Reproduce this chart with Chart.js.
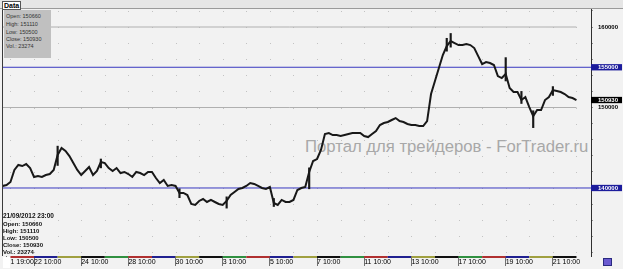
<!DOCTYPE html>
<html>
<head>
<meta charset="utf-8">
<script src="https://cdn.jsdelivr.net/npm/chart.js@4.4.1/dist/chart.umd.min.js"></script>
<style>
  html, body { margin: 0; padding: 0; background: #f2f2f2; }
  #wrap { position: relative; width: 623px; height: 269px; overflow: hidden; background: #f2f2f2; font-family: "Liberation Sans", Arial, sans-serif; }
  #wrap canvas { position: absolute; left: 0; top: 0; z-index: 2; }
  .wm { position: absolute; left: 305px; top: 137px; font-size: 16.7px; color: #a8a8a8; z-index: 1; white-space: nowrap; }
  .topband { position: absolute; left: 0; top: 0; width: 623px; height: 8px; background: #e6e6e6; border-bottom: 1px solid #9a9a9a; z-index: 3; }
  .tab { position: absolute; left: 2px; top: 1px; padding: 0 1px; height: 7px; line-height: 7px; font-size: 7px; font-weight: bold; background: #fff; border: 1px solid #555; z-index: 4; }
  .leftline { position: absolute; left: 2px; top: 8px; width: 1px; height: 248px; background: #3a3a3a; z-index: 3; }
  .infobox { position: absolute; left: 4px; top: 10px; width: 47px; height: 48px; background: #c0c0c0; z-index: 3; font-size: 5.5px; color: #333; }
  .infobox div { position: absolute; left: 2px; white-space: nowrap; }
  .bl { position: absolute; left: 3px; z-index: 3; font-size: 6px; font-weight: bold; color: #111; white-space: nowrap; }
  .whitebox { position: absolute; left: 3px; top: 257px; width: 7px; height: 11px; background: #fff; z-index: 3; }
  .purplebox { position: absolute; left: 603px; top: 258px; width: 7px; height: 6px; background: #6a5ad0; border: 1px solid #2a2a80; z-index: 3; }
</style>
</head>
<body>
<div id="wrap">
  <div class="wm">Портал для трейдеров - ForTrader.ru</div>
  <canvas id="chart" width="623" height="269"></canvas>
  <div class="topband"></div>
  <div class="tab">Data</div>
  <div class="leftline"></div>
  <div class="infobox">
    <div style="top:3px">Open: 150660</div>
    <div style="top:11px">High: 151110</div>
    <div style="top:19px">Low: 150500</div>
    <div style="top:26px">Close: 150930</div>
    <div style="top:33px">Vol.: 23274</div>
  </div>
  <div class="bl" style="top:212px;font-size:6.5px">21/09/2012 23:00</div>
  <div class="bl" style="top:221px">Open: 150660</div>
  <div class="bl" style="top:228px">High: 151110</div>
  <div class="bl" style="top:235px">Low: 150500</div>
  <div class="bl" style="top:242px">Close: 150930</div>
  <div class="bl" style="top:249px">Vol.: 23274</div>
  <div class="whitebox"></div>
  <div class="purplebox"></div>
</div>
<script>
// hourly closes, sampled evenly across the chart (one value per bar slot)
const closes = [
  140250, 140370, 140750, 142240, 142860, 142730, 142980, 142480, 141370, 141490,
  141370, 141610, 141740, 142240, 144100, 144970, 144600, 143970, 143100, 142240,
  141610, 142110, 142610, 141610, 142110, 143230, 143100, 142480, 142110, 142480,
  141860, 141990, 141740, 141370, 141990, 141860, 141610, 141990, 141990, 141240,
  140620, 140990, 140250, 140370, 140250, 139380, 139380, 139130, 138010, 137890,
  138390, 138630, 138260, 138510, 138260, 138010, 137890, 138390, 139130, 139500,
  139880, 140000, 140250, 140620, 140500, 140250, 140000, 139880, 140120, 138140,
  137890, 138510, 138260, 138260, 138510, 139750, 140000, 140120, 141990, 143350,
  143600, 144720, 146710, 146830, 146580, 146580, 146460, 146580, 146710, 146830,
  146830, 146830, 146460, 146330, 146710, 147080, 147820, 148070, 148200, 148450,
  148690, 148320, 148200, 147950, 147820, 147820, 147700, 147700, 148320, 151670,
  153290, 154900, 156520, 157640, 158260, 158010, 157760, 157760, 157880, 157760,
  157390, 156390, 155400, 155650, 155530, 155280, 153910, 153660, 154160, 152420,
  151920, 151920, 150930, 151300, 150060, 148940, 149690, 149690, 150930, 151300,
  152170, 152050, 151920, 151670, 151300, 151180, 150930
];

// the few long bar wicks that stand out: slot, low, high
const wickSlots = [14, 25, 45, 57, 69, 78, 113, 114, 128, 132, 135, 140];
const wickLows  = [142800, 142500, 138800, 137500, 137700, 139900, 157000, 157500, 153300, 150500, 147500, 151500];
const wickHighs = [145200, 143600, 139900, 138900, 138700, 142500, 158600, 159200, 156200, 152000, 149600, 152600];

// x axis labels and the bar slot each one sits on
const xTickPos = [1, 8, 20, 32, 44, 56, 68, 80, 92, 104, 116, 128, 140];
const xTickLabels = ['21 19:00', '22 10:00', '24 10:00', '28 10:00', '30 10:00', '3 10:00',
  '5 10:00', '7 10:00', '11 10:00', '13 10:00', '17 10:00', '19 10:00', '21 10:00'];

// session (day) starts, used for the dotted grid and the colored separator strip
const dayStarts = [2, 8, 14, 20, 26, 32, 38, 44, 50, 56, 62, 68, 74, 80, 86, 92, 98, 104,
  110, 116, 122, 128, 134, 140, 146];
const dayColors = ['#b03030', '#202090', '#a0a040', '#101010', '#309040'];

// horizontal levels
const blueLevels = [155000, 140000];
const grayLevels = [160000, 150000];
const lastClose = 150930;

const xMin = 0.1, xMax = 149.7;
const yMin = 131550, yMax = 162240;

const lastIdx = closes.length - 1;

function levelStyle(v) {
  if (blueLevels.includes(v)) return '#1c1c9c';
  if (v === lastClose) return '#000000';
  return null;
}

const gridDots = {
  id: 'gridDots',
  beforeDatasetsDraw(chart) {
    const { ctx, scales: { x, y } } = chart;
    ctx.save();
    ctx.fillStyle = '#c2c2c2';
    dayStarts.forEach(d => {
      const px = Math.round(x.getPixelForValue(d));
      y.ticks.forEach(t => {
        if (t.value % 2000 !== 0) return;
        const py = Math.round(y.getPixelForValue(t.value));
        ctx.fillRect(px, py, 1, 1);
      });
    });
    ctx.restore();
  }
};

const daySeparators = {
  id: 'daySeparators',
  afterDatasetsDraw(chart) {
    const { ctx, chartArea, scales: { x } } = chart;
    ctx.save();
    for (let k = 0; k < dayStarts.length - 1; k++) {
      const x0 = x.getPixelForValue(dayStarts[k]);
      const x1 = x.getPixelForValue(dayStarts[k + 1]);
      ctx.fillStyle = dayColors[k % dayColors.length];
      ctx.fillRect(x0, chartArea.bottom, x1 - x0, 2);
    }
    ctx.restore();
  }
};

function flatLine(v, x0, x1, color) {
  return {
    type: 'line',
    data: [{ x: x0, y: v }, { x: x1, y: v }],
    borderColor: color,
    borderWidth: 1,
    pointRadius: 0
  };
}

const datasets = [{
  type: 'line',
  data: closes.map((c, i) => ({ x: i, y: c })),
  borderColor: '#181818',
  borderWidth: 2,
  pointRadius: 0,
  tension: 0
}, {
  type: 'bar',
  data: wickSlots.map((s, k) => ({ x: s, y: [wickLows[k], wickHighs[k]] })),
  backgroundColor: '#181818',
  barThickness: 1.5
}];
blueLevels.forEach(v => datasets.push(flatLine(v, xMin, xMax, '#3838c0')));
grayLevels.forEach(v => datasets.push(flatLine(v, xMin, lastIdx, '#b0b0b0')));

new Chart(document.getElementById('chart'), {
  type: 'line',
  data: { datasets: datasets },
  options: {
    responsive: false,
    animation: false,
    devicePixelRatio: 1,
    layout: { padding: { left: 3, top: 9, right: 0, bottom: 0 } },
    plugins: { legend: { display: false }, tooltip: { enabled: false } },
    scales: {
      x: {
        type: 'linear',
        min: xMin,
        max: xMax,
        offset: false,
        afterBuildTicks: scale => { scale.ticks = xTickPos.map(v => ({ value: v })); },
        afterFit: scale => { scale.height = 13; },
        border: { display: false },
        grid: { drawOnChartArea: false, drawTicks: true, tickLength: 10, color: '#707070', offset: false },
        ticks: {
          autoSkip: false,
          maxRotation: 0,
          align: 'start',
          padding: -8,
          color: '#000',
          font: { family: 'Liberation Sans', size: 7 },
          callback: (value, index) => xTickLabels[index]
        }
      },
      y: {
        position: 'right',
        min: yMin,
        max: yMax,
        afterBuildTicks: scale => {
          const ticks = [];
          for (let v = 132000; v <= 162000; v += 2000) ticks.push(v);
          ticks.push(155000, lastClose);
          ticks.sort((a, b) => a - b);
          scale.ticks = ticks.map(v => ({ value: v }));
        },
        afterFit: scale => { scale.width = 32; },
        border: { display: true, color: '#303030', width: 1 },
        grid: { drawOnChartArea: false, drawTicks: true, tickLength: 2, color: '#909090' },
        ticks: {
          autoSkip: false,
          padding: 5,
          font: { family: 'Liberation Sans', size: 6, weight: 'bold', lineHeight: 1.05 },
          color: ctx => levelStyle(ctx.tick.value) ? '#ffffff' : '#000000',
          showLabelBackdrop: ctx => levelStyle(ctx.tick.value) !== null,
          backdropColor: ctx => levelStyle(ctx.tick.value) || 'rgba(0,0,0,0)',
          backdropPadding: { left: 7, right: 4, top: 0, bottom: 0 },
          callback: v => (levelStyle(v) || v % 10000 === 0) ? String(v) : ''
        }
      }
    }
  },
  plugins: [gridDots, daySeparators]
});
</script>
</body>
</html>
